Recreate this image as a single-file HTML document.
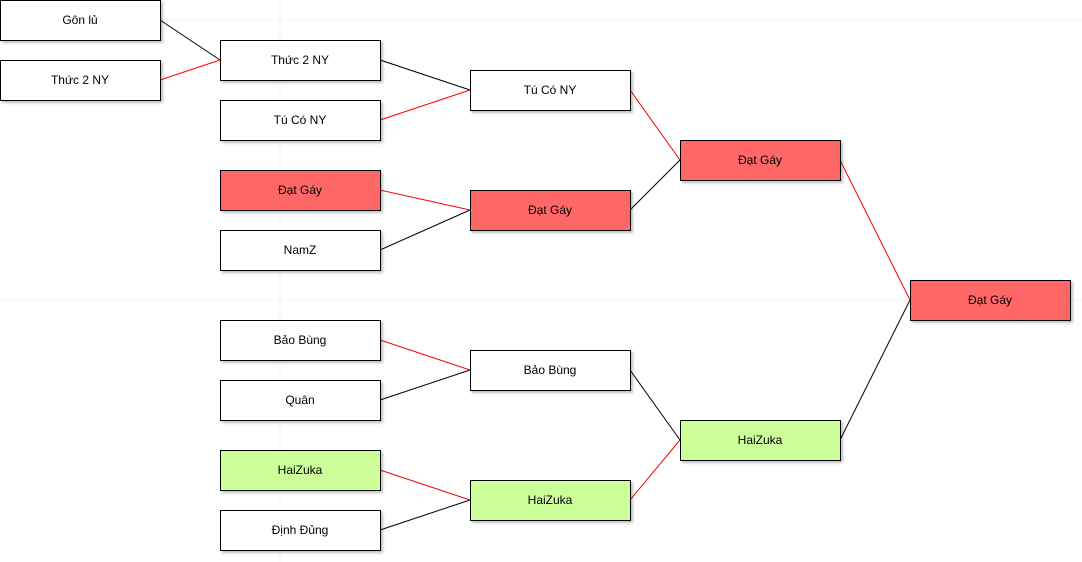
<!DOCTYPE html>
<html><head><meta charset="utf-8"><style>
html,body{margin:0;padding:0;background:#fff;width:1082px;height:562px;overflow:hidden}
text{font-family:"Liberation Sans",sans-serif;font-size:12px;fill:#000}
</style></head><body>
<svg width="1082" height="562" viewBox="0 0 1082 562" xmlns="http://www.w3.org/2000/svg">
<defs><filter id="s" x="-10%" y="-10%" width="130%" height="150%"><feDropShadow dx="2" dy="2" stdDeviation="1.2" flood-color="#000" flood-opacity="0.25"/></filter></defs>
<line x1="280" y1="0" x2="280" y2="562" stroke="#f3f3f3"/>
<line x1="0" y1="20" x2="1082" y2="20" stroke="#f5f5f5"/>
<line x1="0" y1="300" x2="1082" y2="300" stroke="#f5f5f5"/>
<g stroke-width="1" fill="none">
<line x1="160" y1="20" x2="220" y2="60" stroke="#000"/>
<line x1="160" y1="80" x2="220" y2="60" stroke="#f00"/>
<line x1="380" y1="60" x2="470" y2="90" stroke="#000"/>
<line x1="380" y1="120" x2="470" y2="90" stroke="#f00"/>
<line x1="380" y1="190" x2="470" y2="210" stroke="#f00"/>
<line x1="380" y1="250" x2="470" y2="210" stroke="#000"/>
<line x1="380" y1="340" x2="470" y2="370" stroke="#f00"/>
<line x1="380" y1="400" x2="470" y2="370" stroke="#000"/>
<line x1="380" y1="470" x2="470" y2="500" stroke="#f00"/>
<line x1="380" y1="530" x2="470" y2="500" stroke="#000"/>
<line x1="630" y1="90" x2="680" y2="160" stroke="#f00"/>
<line x1="630" y1="210" x2="680" y2="160" stroke="#000"/>
<line x1="630" y1="370" x2="680" y2="440" stroke="#000"/>
<line x1="630" y1="500" x2="680" y2="440" stroke="#f00"/>
<line x1="840" y1="160" x2="910" y2="300" stroke="#f00"/>
<line x1="840" y1="440" x2="910" y2="300" stroke="#000"/>
</g>
<g stroke="#000" stroke-width="1" filter="url(#s)">
<rect x="0.5" y="0.5" width="160" height="40" fill="#fff"/>
<rect x="0.5" y="60.5" width="160" height="40" fill="#fff"/>
<rect x="220.5" y="40.5" width="160" height="40" fill="#fff"/>
<rect x="220.5" y="100.5" width="160" height="40" fill="#fff"/>
<rect x="220.5" y="170.5" width="160" height="40" fill="#ff6666"/>
<rect x="220.5" y="230.5" width="160" height="40" fill="#fff"/>
<rect x="220.5" y="320.5" width="160" height="40" fill="#fff"/>
<rect x="220.5" y="380.5" width="160" height="40" fill="#fff"/>
<rect x="220.5" y="450.5" width="160" height="40" fill="#ccff99"/>
<rect x="220.5" y="510.5" width="160" height="40" fill="#fff"/>
<rect x="470.5" y="70.5" width="160" height="40" fill="#fff"/>
<rect x="470.5" y="190.5" width="160" height="40" fill="#ff6666"/>
<rect x="470.5" y="350.5" width="160" height="40" fill="#fff"/>
<rect x="470.5" y="480.5" width="160" height="40" fill="#ccff99"/>
<rect x="680.5" y="140.5" width="160" height="40" fill="#ff6666"/>
<rect x="680.5" y="420.5" width="160" height="40" fill="#ccff99"/>
<rect x="910.5" y="280.5" width="160" height="40" fill="#ff6666"/>
</g>
<g text-anchor="middle">
<text x="80" y="24">Gôn lủ</text>
<text x="80" y="84">Thức 2 NY</text>
<text x="300" y="64">Thức 2 NY</text>
<text x="300" y="124">Tú Có NY</text>
<text x="300" y="194">Đạt Gáy</text>
<text x="300" y="254">NamZ</text>
<text x="300" y="344">Bảo Bùng</text>
<text x="300" y="404">Quân</text>
<text x="300" y="474">HaiZuka</text>
<text x="300" y="534">Định Đủng</text>
<text x="550" y="94">Tú Có NY</text>
<text x="550" y="214">Đạt Gáy</text>
<text x="550" y="374">Bảo Bùng</text>
<text x="550" y="504">HaiZuka</text>
<text x="760" y="164">Đạt Gáy</text>
<text x="760" y="444">HaiZuka</text>
<text x="990" y="304">Đạt Gáy</text>
</g>
</svg>
</body></html>
